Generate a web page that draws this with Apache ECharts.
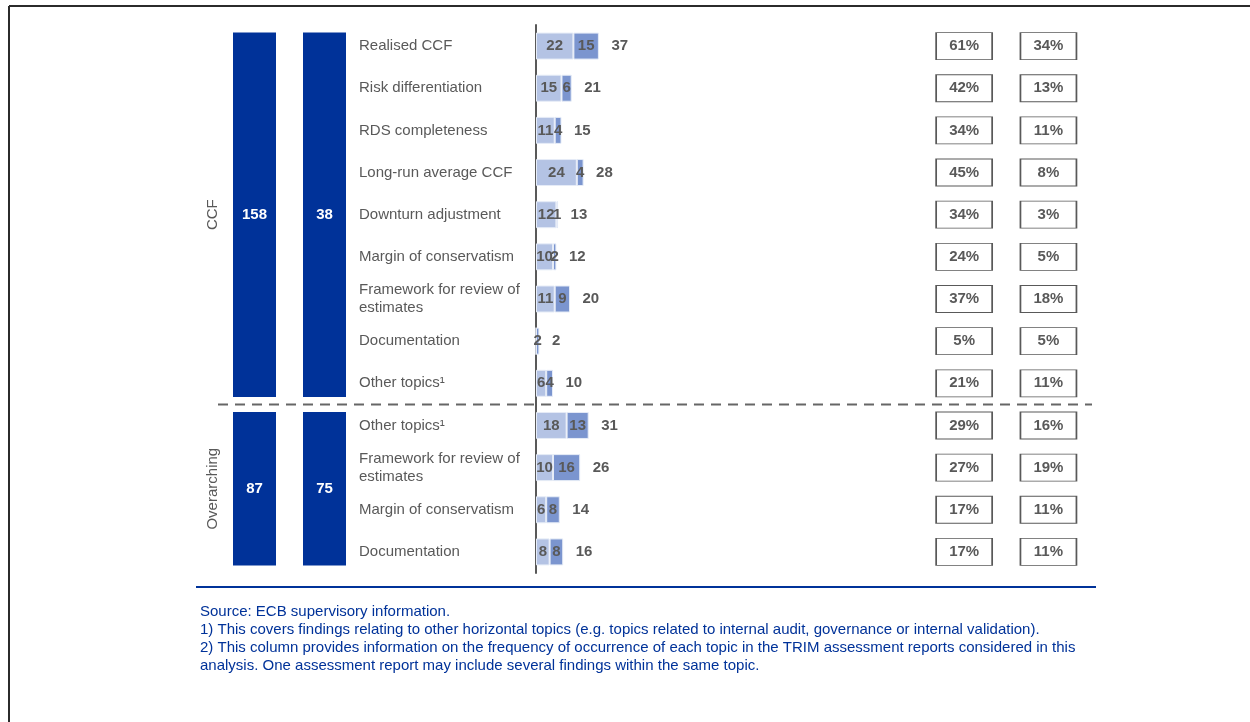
<!DOCTYPE html>
<html>
<head>
<meta charset="utf-8">
<script src="https://cdn.jsdelivr.net/npm/echarts@6/dist/echarts.min.js"></script>
<style>
  html, body { margin: 0; padding: 0; background: #fff; }
  #chart { width: 1250px; height: 722px; }
</style>
</head>
<body>
<div id="chart"></div>
<script>
// topics, top to bottom
const categories = [
  'Realised CCF', 'Risk differentiation', 'RDS completeness', 'Long-run average CCF',
  'Downturn adjustment', 'Margin of conservatism', 'Framework for review of\nestimates',
  'Documentation', 'Other topics¹',
  'Other topics¹', 'Framework for review of\nestimates', 'Margin of conservatism', 'Documentation'
];
const lightValues = [22, 15, 11, 24, 12, 10, 11, 0, 6, 18, 10, 6, 8];
const darkValues = [15, 6, 4, 4, 1, 2, 9, 2, 4, 13, 16, 8, 8];
const totals = [37, 21, 15, 28, 13, 12, 20, 2, 10, 31, 26, 14, 16];
const shareFirst = [61, 42, 34, 45, 34, 24, 37, 5, 21, 29, 27, 17, 17];
const shareSecond = [34, 13, 11, 8, 3, 5, 18, 5, 11, 16, 19, 11, 11];

// groups: names, row ranges and the two summary boxes
const groupNames = ['CCF', 'Overarching'];
const groupStart = [0, 9];
const groupEnd = [9, 13];
const groupFindings = [158, 87];
const groupTopics = [38, 75];

const footnotes = [
  'Source: ECB supervisory information.',
  '1) This covers findings relating to other horizontal topics (e.g. topics related to internal audit, governance or internal validation).',
  '2) This column provides information on the frequency of occurrence of each topic in the TRIM assessment reports considered in this',
  'analysis. One assessment report may include several findings within the same topic.'
];

const FONT = 'Arial, "Liberation Sans", sans-serif';
const GREY = '#595959';
const ECB_BLUE = '#003299';

const chart = echarts.init(document.getElementById('chart'));

const boxData = [];
groupNames.forEach((g, i) => {
  boxData.push([0, groupStart[i], groupEnd[i], groupFindings[i], g]);
  boxData.push([1, groupStart[i], groupEnd[i], groupTopics[i], g]);
});

const pctData = [];
categories.forEach((c, i) => {
  pctData.push([0, i, shareFirst[i]]);
  pctData.push([1, i, shareSecond[i]]);
});

const TOP = 25, HEIGHT = 548;

chart.setOption({
  animation: false,
  textStyle: { fontFamily: FONT },
  grid: [
    { left: 536, top: TOP, width: 170, height: HEIGHT },
    { left: 219.5, top: TOP, width: 140, height: HEIGHT },
    { left: 922, top: TOP, width: 168.6, height: HEIGHT }
  ],
  xAxis: [
    { gridIndex: 0, type: 'value', min: 0, max: 100, show: false },
    { gridIndex: 1, type: 'category', data: ['findings', 'topics'], show: false },
    { gridIndex: 2, type: 'category', data: ['all', 'reports'], show: false }
  ],
  yAxis: [
    {
      gridIndex: 0, type: 'category', data: categories, inverse: true,
      axisLine: { show: true, lineStyle: { color: GREY, width: 2 } },
      axisTick: { show: false },
      axisLabel: {
        margin: 177, align: 'left', color: GREY, fontSize: 15,
        fontFamily: FONT, lineHeight: 18
      },
      splitLine: { show: false }
    },
    { gridIndex: 1, type: 'value', min: 0, max: 13, inverse: true, show: false },
    { gridIndex: 2, type: 'category', data: categories, inverse: true, show: false }
  ],
  series: [
    {
      name: 'light', type: 'bar', stack: 'a', xAxisIndex: 0, yAxisIndex: 0,
      data: lightValues, barWidth: 27,
      itemStyle: { color: '#b4c3e4', borderColor: '#e6ecf7', borderWidth: 1 },
      label: {
        show: true, position: 'inside', color: GREY, fontWeight: 'bold', fontSize: 15,
        formatter: p => (p.value ? p.value : '')
      }
    },
    {
      name: 'dark', type: 'bar', stack: 'a', xAxisIndex: 0, yAxisIndex: 0,
      data: darkValues, barWidth: 27,
      itemStyle: { color: '#7b95cf', borderColor: '#e6ecf7', borderWidth: 1 },
      label: {
        show: true, position: 'inside', color: GREY, fontWeight: 'bold', fontSize: 15,
        formatter: p => (p.value ? p.value : '')
      }
    },
    {
      name: 'total', type: 'scatter', xAxisIndex: 0, yAxisIndex: 0,
      data: totals.map((t, i) => [t, i]),
      symbolSize: 1, itemStyle: { color: 'rgba(0,0,0,0)', opacity: 1 },
      label: {
        show: true, position: 'right', distance: 12, color: GREY,
        fontWeight: 'bold', fontSize: 15, formatter: p => p.value[0]
      }
    },
    {
      name: 'groups', type: 'custom', xAxisIndex: 1, yAxisIndex: 1,
      data: boxData,
      renderItem: (params, api) => {
        const col = api.value(0);
        const p0 = api.coord([col, api.value(1)]);
        const p1 = api.coord([col, api.value(2)]);
        const w = 43, inset = 7.5;
        const children = [{
          type: 'rect',
          shape: { x: p0[0] - w / 2, y: p0[1] + inset, width: w, height: p1[1] - p0[1] - 2 * inset },
          style: { fill: ECB_BLUE },
          textContent: {
            style: { text: String(api.value(3)), fill: '#fff', font: 'bold 15px ' + FONT }
          },
          textConfig: { position: 'inside' }
        }];
        if (col === 0) {
          children.push({
            type: 'text',
            x: p0[0] - 41.5, y: (p0[1] + p1[1]) / 2,
            rotation: Math.PI / 2,
            style: {
              text: api.value(4), fill: GREY, font: '15px ' + FONT,
              align: 'center', verticalAlign: 'middle'
            }
          });
        }
        return { type: 'group', children };
      }
    },
    {
      name: 'share', type: 'scatter', xAxisIndex: 2, yAxisIndex: 2,
      data: pctData, symbol: 'rect', symbolSize: [56, 27],
      itemStyle: { color: '#fff', borderColor: GREY, borderWidth: 1.2, opacity: 1 },
      label: {
        show: true, position: 'inside', color: GREY, fontWeight: 'bold', fontSize: 15,
        formatter: p => p.value[2] + '%'
      }
    }
  ]
});

// group separator, footnotes and frame
const sepY = chart.convertToPixel({ yAxisIndex: 1 }, groupEnd[0]);
chart.setOption({
  graphic: [
    { type: 'line', shape: { x1: 9, y1: 6, x2: 1250, y2: 6 }, style: { stroke: '#2b2b2b', lineWidth: 2 } },
    { type: 'line', shape: { x1: 9, y1: 6, x2: 9, y2: 722 }, style: { stroke: '#2b2b2b', lineWidth: 2 } },
    {
      type: 'line', shape: { x1: 218, y1: sepY, x2: 1092, y2: sepY },
      style: { stroke: '#666', lineWidth: 2, lineDash: [10, 7] }
    },
    { type: 'line', shape: { x1: 196, y1: 587, x2: 1096, y2: 587 }, style: { stroke: ECB_BLUE, lineWidth: 2 } },
    {
      type: 'text', x: 200, y: 603,
      style: { text: footnotes.join('\n'), fill: ECB_BLUE, font: '15px ' + FONT, lineHeight: 18 }
    }
  ]
});
</script>
</body>
</html>
